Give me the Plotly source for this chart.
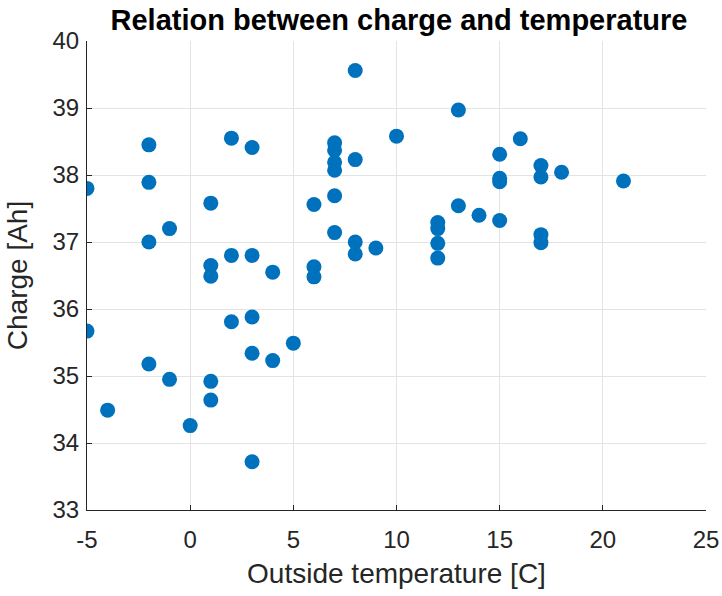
import plotly.graph_objects as go

temperature = [-5, -5, -4, -2, -2, -2, -2, -1, -1, 0,
               1, 1, 1, 1, 1, 2, 2, 2, 3, 3, 3, 3, 3, 4, 4, 5,
               6, 6, 6, 7, 7, 7, 7, 7, 7, 8, 8, 8, 8, 9, 10,
               12, 12, 12, 12, 13, 13, 14, 15, 15, 15, 15, 16,
               17, 17, 17, 17, 18, 21]
charge = [37.80, 35.67, 34.49, 38.45, 37.89, 37.00, 35.18, 37.20, 34.95, 34.26,
          37.58, 36.65, 36.49, 34.92, 34.64, 38.55, 36.80, 35.81, 38.41, 36.80, 35.88, 35.34, 33.72, 36.55, 35.23, 35.49,
          37.56, 36.63, 36.48, 38.48, 38.37, 38.19, 38.07, 37.69, 37.14, 39.56, 38.23, 37.00, 36.82, 36.91, 38.58,
          37.29, 37.20, 36.98, 36.76, 38.97, 37.54, 37.40, 38.31, 37.95, 37.90, 37.32, 38.54,
          38.14, 37.97, 37.11, 36.99, 38.04, 37.91]

x_ticks = [-5, 0, 5, 10, 15, 20, 25]
y_ticks = [33, 34, 35, 36, 37, 38, 39, 40]

font_family = "Liberation Sans, Arial, Helvetica, sans-serif"

fig = go.Figure()
fig.add_trace(go.Scatter(
    x=temperature, y=charge, mode="markers",
    marker=dict(color="#0072BD", size=15, line=dict(width=0)),
    showlegend=False,
))

axis_common = dict(
    showgrid=True, gridcolor="#e3e3e3", gridwidth=1,
    zeroline=False, showline=True, linecolor="#262626", linewidth=1,
    ticks="inside", ticklen=5, tickcolor="#262626",
    tickfont=dict(size=24, color="#262626", family=font_family),
    mirror=False, automargin=False,
)

fig.update_layout(
    width=722, height=596,
    margin=dict(l=87, r=16, t=41, b=86),
    paper_bgcolor="white", plot_bgcolor="white",
    title=dict(text="<b>Relation between charge and temperature</b>",
               x=0.504, xanchor="center", xref="paper", y=0.967, yanchor="middle",
               font=dict(size=29, color="black", family=font_family)),
    xaxis=dict(range=[-5, 25], tickvals=x_ticks, ticktext=[str(v) for v in x_ticks],
               ticklabelstandoff=8,
               title=dict(text="Outside temperature [C]", standoff=11,
                          font=dict(size=28, color="#262626", family=font_family)),
               **axis_common),
    yaxis=dict(range=[33, 40], tickvals=y_ticks, ticktext=[str(v) for v in y_ticks],
               ticklabelstandoff=2,
               title=dict(text="Charge [Ah]", standoff=16,
                          font=dict(size=28, color="#262626", family=font_family)),
               **axis_common),
)

fig.write_html("out.html")
